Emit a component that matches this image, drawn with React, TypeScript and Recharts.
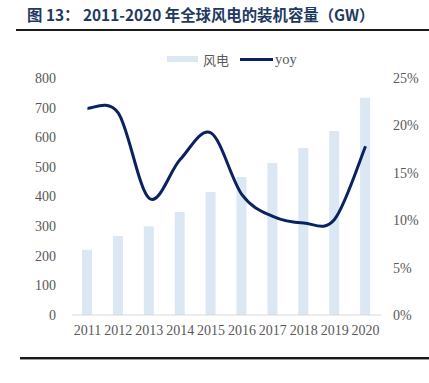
import { ComposedChart, Bar, Line, XAxis, YAxis } from "recharts";

const years = ["2011", "2012", "2013", "2014", "2015", "2016", "2017", "2018", "2019", "2020"];
const capacity = [220, 267, 300, 348, 415, 466, 513, 564, 621, 733];
const yoy = [21.8, 21.3, 12.3, 16.4, 19.2, 12.7, 10.4, 9.7, 10.1, 17.8];
const leftTicks = [0, 100, 200, 300, 400, 500, 600, 700, 800];
const rightTicks = [0, 5, 10, 15, 20, 25];

const data = years.map((y, i) => ({ year: y, wind: capacity[i], yoy: yoy[i] }));

const BAR = "#dce7f4";
const LINE = "#0b2260";
const TXT = "#595959";
const SERIF = "'Liberation Serif', serif";

// office-style smoothed line (catmull-rom through the points)
const smoothCurve = (ctx: any) => {
  let pts: number[][] = [];
  return {
    areaStart() {},
    areaEnd() {},
    lineStart() { pts = []; },
    point(x: number, y: number) { pts.push([x, y]); },
    lineEnd() {
      if (!pts.length) return;
      ctx.moveTo(pts[0][0], pts[0][1]);
      for (let i = 0; i < pts.length - 1; i++) {
        const p0 = pts[i - 1] || pts[i];
        const p1 = pts[i];
        const p2 = pts[i + 1];
        const p3 = pts[i + 2] || p2;
        ctx.bezierCurveTo(
          p1[0] + (p2[0] - p0[0]) / 6, p1[1] + (p2[1] - p0[1]) / 6,
          p2[0] - (p3[0] - p1[0]) / 6, p2[1] - (p3[1] - p1[1]) / 6,
          p2[0], p2[1]
        );
      }
    },
  };
};

export default function App() {
  return (
    <div style={{ position: "absolute", left: 0, top: 0, width: 429, height: 383, background: "#fff", overflow: "hidden" }}>
      <div style={{ position: "absolute", left: 27, top: 3, fontSize: 15.4, fontWeight: 700, color: "#1f3a5f", fontFamily: "'Noto Sans CJK SC', sans-serif", whiteSpace: "nowrap" }}>
        图 13：  2011-2020 年全球风电的装机容量（GW）
      </div>
      <div style={{ position: "absolute", left: 16, top: 29, width: 413, height: 2, background: "#1a1a1a" }} />
      <div style={{ position: "absolute", left: 20, top: 357, width: 409, height: 2, background: "#1a1a1a" }} />
      <div style={{ position: "absolute", left: 20, top: 359, width: 409, height: 1, background: "#9a9a9a" }} />

      {/* legend */}
      <div style={{ position: "absolute", left: 167, top: 50, display: "flex", alignItems: "center", height: 18, fontSize: 13, color: TXT, fontFamily: "'Noto Sans CJK SC', serif", whiteSpace: "nowrap" }}>
        <span style={{ display: "inline-block", width: 31, height: 6, background: BAR, marginRight: 5 }} />
        <span style={{ marginRight: 11 }}>风电</span>
        <span style={{ display: "inline-block", width: 33, height: 3, background: LINE, marginRight: 2 }} />
        <span style={{ fontFamily: SERIF, fontSize: 14.5 }}>yoy</span>
      </div>

      <ComposedChart
        width={429}
        height={383}
        data={data}
        margin={{ top: 78, right: 8, bottom: 38, left: 32 }}
        barCategoryGap={0}
      >
        <XAxis
          dataKey="year"
          height={30}
          tickLine={false}
          axisLine={{ stroke: "#d9d9d9" }}
          interval={0}
          tickMargin={4}
          tick={{ fill: TXT, fontSize: 14, fontFamily: SERIF }}
        />
        <YAxis
          yAxisId="left"
          width={40}
          domain={[0, 800]}
          ticks={leftTicks}
          tickLine={false}
          axisLine={false}
          tickMargin={10}
          tick={{ fill: TXT, fontSize: 14, fontFamily: SERIF }}
        />
        <YAxis
          yAxisId="right"
          orientation="right"
          width={40}
          domain={[0, 25]}
          ticks={rightTicks}
          tickFormatter={(v) => `${v}%`}
          tickLine={false}
          axisLine={false}
          tickMargin={6}
          tick={{ fill: TXT, fontSize: 14, fontFamily: SERIF, textAnchor: "start" }}
        />
        <Bar yAxisId="left" dataKey="wind" name="风电" fill={BAR} barSize={10} isAnimationActive={false} />
        <Line
          yAxisId="right"
          dataKey="yoy"
          name="yoy"
          type={smoothCurve as any}
          stroke={LINE}
          strokeWidth={3}
          dot={false}
          isAnimationActive={false}
        />
      </ComposedChart>
    </div>
  );
}
